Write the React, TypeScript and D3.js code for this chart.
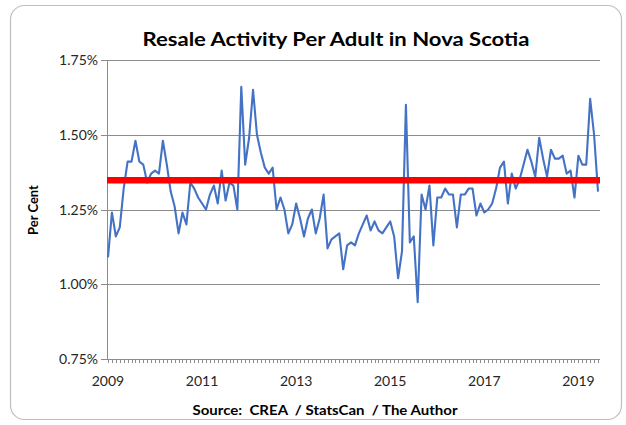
import React from "react";
import * as d3 from "d3";

const TITLE = "Resale Activity Per Adult in Nova Scotia";
const Y_TITLE = "Per Cent";
const SOURCE = "Source:  CREA  / StatsCan  / The Author";

const START_YEAR = 2009;
const RESALES_PER_ADULT = [
  1.09, 1.24, 1.16, 1.19, 1.32, 1.41, 1.41, 1.48, 1.41, 1.40, 1.34, 1.37,
  1.38, 1.37, 1.48, 1.40, 1.31, 1.26, 1.17, 1.24, 1.20, 1.34, 1.32, 1.29,
  1.27, 1.25, 1.30, 1.33, 1.27, 1.38, 1.28, 1.34, 1.33, 1.25, 1.66, 1.40,
  1.49, 1.65, 1.50, 1.44, 1.39, 1.37, 1.39, 1.25, 1.29, 1.25, 1.17, 1.20,
  1.27, 1.22, 1.16, 1.22, 1.25, 1.17, 1.22, 1.30, 1.12, 1.15, 1.16, 1.17,
  1.05, 1.13, 1.14, 1.13, 1.17, 1.20, 1.23, 1.18, 1.21, 1.18, 1.17, 1.19,
  1.21, 1.16, 1.02, 1.11, 1.60, 1.14, 1.16, 0.94, 1.30, 1.25, 1.33, 1.13,
  1.29, 1.29, 1.32, 1.30, 1.30, 1.19, 1.30, 1.30, 1.32, 1.32, 1.23, 1.27,
  1.24, 1.25, 1.27, 1.32, 1.39, 1.41, 1.27, 1.37, 1.32, 1.35, 1.40, 1.45,
  1.41, 1.36, 1.49, 1.42, 1.36, 1.45, 1.42, 1.42, 1.43, 1.37, 1.38, 1.29,
  1.43, 1.40, 1.40, 1.62, 1.50, 1.31,
];
const AVERAGE = 1.348;
const Y_TICKS = [0.75, 1.0, 1.25, 1.5, 1.75];
const X_TICK_LABELS = ["2009", "2011", "2013", "2015", "2017", "2019"];

const MONTHS = RESALES_PER_ADULT.map((_, i) => {
  const y = START_YEAR + Math.floor(i / 12);
  const m = (i % 12) + 1;
  return `${y}-${String(m).padStart(2, "0")}`;
});

const W = 626;
const H = 425;
const PLOT_L = 107;
const PLOT_R = 600;
const PLOT_T = 60;
const PLOT_B = 359;
const FONT = "Lato, 'Open Sans', sans-serif";

export default function App() {
  const x = d3
    .scalePoint<string>()
    .domain(MONTHS)
    .range([PLOT_L + 1, PLOT_R - 2]);
  const y = d3.scaleLinear().domain([0.75, 1.75]).range([PLOT_B, PLOT_T]);

  const line = d3
    .line<number>()
    .x((_, i) => x(MONTHS[i]) as number)
    .y((d) => y(d));

  const fmt = (t: number) => `${t.toFixed(2)}%`;

  const tickMonths = X_TICK_LABELS.map((lab) => `${lab}-01`);

  return (
    <svg
      width={W}
      height={H}
      style={{ position: "absolute", left: 0, top: 0, background: "#fff" }}
    >
      <rect
        x={10.5}
        y={5.5}
        width={611}
        height={414}
        rx={14}
        fill="#fff"
        stroke="#bfbfbf"
        strokeWidth={1.2}
      />
      <text
        x={336}
        y={46}
        textAnchor="middle"
        fontFamily={FONT}
        fontWeight="bold"
        fontSize={19}
        fill="#000"
        textLength={387}
        lengthAdjust="spacingAndGlyphs"
      >
        {TITLE}
      </text>

      {Y_TICKS.map((t) => (
        <g key={t}>
          <line
            x1={PLOT_L}
            x2={PLOT_R}
            y1={Math.round(y(t)) + 0.5}
            y2={Math.round(y(t)) + 0.5}
            stroke="#8c8c8c"
            strokeWidth={1}
          />
          <line
            x1={PLOT_L - 6}
            x2={PLOT_L}
            y1={Math.round(y(t)) + 0.5}
            y2={Math.round(y(t)) + 0.5}
            stroke="#8c8c8c"
            strokeWidth={1}
          />
          <text
            x={PLOT_L - 9}
            y={y(t) + 5}
            textAnchor="end"
            fontFamily={FONT}
            fontSize={14}
            fill="#262626"
          >
            {fmt(t)}
          </text>
        </g>
      ))}

      <line
        x1={PLOT_L + 0.5}
        x2={PLOT_L + 0.5}
        y1={PLOT_T}
        y2={PLOT_B + 1}
        stroke="#8c8c8c"
        strokeWidth={1}
      />

      {MONTHS.map((m) => (
        <line
          key={m}
          x1={Math.round(x(m) as number) + 0.5}
          x2={Math.round(x(m) as number) + 0.5}
          y1={PLOT_B}
          y2={PLOT_B + 4}
          stroke="#8c8c8c"
          strokeWidth={1}
        />
      ))}

      {tickMonths.map((m, i) => (
        <text
          key={m}
          x={x(m) as number}
          y={386}
          textAnchor="middle"
          fontFamily={FONT}
          fontSize={14}
          fill="#262626"
        >
          {X_TICK_LABELS[i]}
        </text>
      ))}

      <text
        transform={`translate(38, 210) rotate(-90)`}
        textAnchor="middle"
        fontFamily={FONT}
        fontWeight="bold"
        fontSize={13}
        fill="#000"
      >
        {Y_TITLE}
      </text>

      <path
        d={line(RESALES_PER_ADULT) ?? ""}
        fill="none"
        stroke="#4472C4"
        strokeWidth={2.1}
        strokeLinejoin="round"
      />

      <line
        x1={PLOT_L}
        x2={PLOT_R}
        y1={y(AVERAGE)}
        y2={y(AVERAGE)}
        stroke="#FF0000"
        strokeWidth={6.5}
      />

      <text
        x={325}
        y={415}
        textAnchor="middle"
        fontFamily={FONT}
        fontWeight="bold"
        fontSize={13}
        fill="#000"
        textLength={265}
        lengthAdjust="spacingAndGlyphs"
        style={{ whiteSpace: "pre" }}
      >
        {SOURCE}
      </text>
    </svg>
  );
}
